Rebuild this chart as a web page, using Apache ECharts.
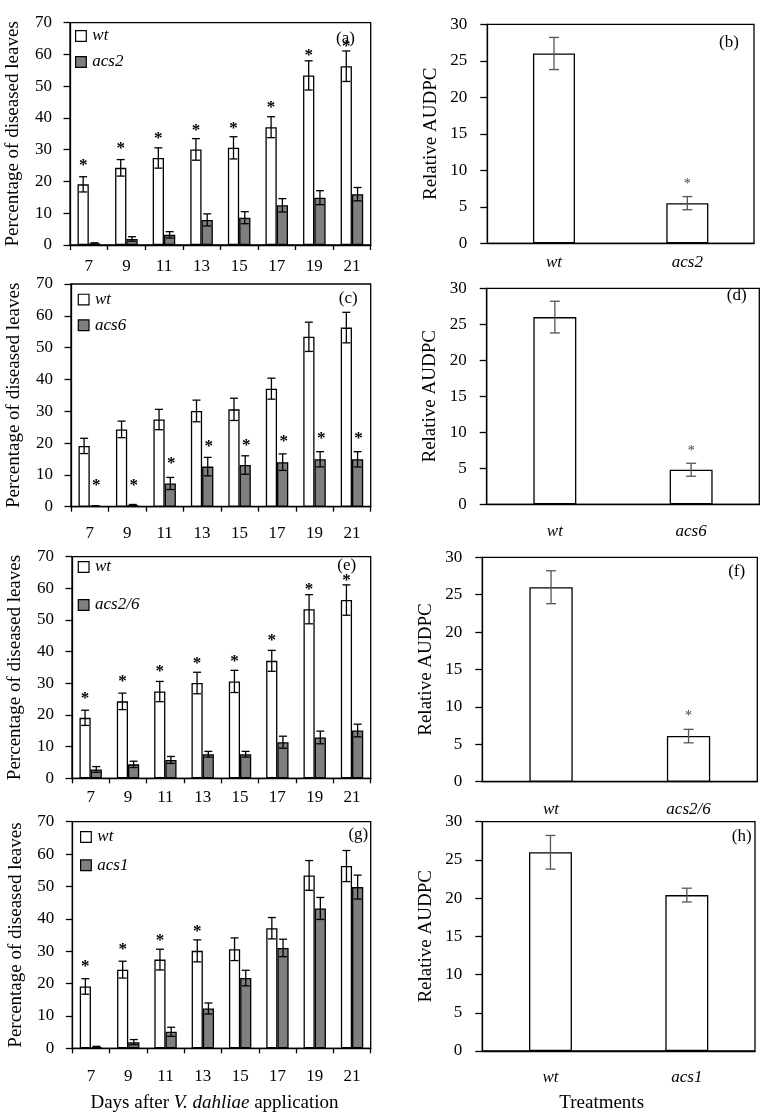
<!DOCTYPE html>
<html>
<head>
<meta charset="utf-8">
<script src="https://cdn.jsdelivr.net/npm/echarts@6/dist/echarts.min.js"></script>
<style>
html,body{margin:0;padding:0;background:#fff;}
#c{width:766px;height:1116px;}
</style>
</head>
<body>
<div id="c"></div>
<script>
// ---------- data ----------
var days = ['7', '9', '11', '13', '15', '17', '19', '21'];
var wtMean = [19.1, 24.3, 27.4, 30.1, 30.6, 37.1, 53.4, 56.3];
var wtErr = [2.4, 2.6, 3.2, 3.4, 3.5, 3.3, 4.6, 4.8];
var acs2Mean = [0.5, 1.9, 3.2, 7.9, 8.6, 12.5, 14.9, 16.0];
var acs2Err = [0.2, 0.7, 1.0, 1.9, 1.9, 2.1, 2.2, 2.1];
var acs6Mean = [0.2, 0.5, 7.3, 12.6, 13.1, 14.0, 14.9, 14.9];
var acs6Err = [0.1, 0.2, 1.9, 2.9, 2.9, 2.6, 2.4, 2.4];
var acs26Mean = [2.8, 4.4, 5.8, 7.6, 7.6, 11.4, 12.9, 15.1];
var acs26Err = [0.9, 1.0, 1.1, 0.9, 0.9, 1.9, 2.0, 2.0];
var acs1Mean = [0.4, 1.9, 5.1, 12.3, 21.7, 31.0, 43.2, 49.8];
var acs1Err = [0.2, 0.8, 1.4, 1.7, 2.4, 2.7, 3.4, 3.7];
// asterisk heights (-1 = no asterisk)
var starA = [26.0, 31.3, 34.3, 37.1, 37.7, 44.3, 60.7, 63.5];
var starC = [7.7, 7.7, 14.6, 19.8, 20.3, 21.3, 22.2, 22.2];
var starE = [26.0, 31.5, 34.5, 37.2, 37.8, 44.3, 60.6, 63.3];
var starG = [26.3, 31.4, 34.3, 37.1, -1, -1, -1, -1];

var audpcCatsB = ['wt', 'acs2'];
var audpcCatsD = ['wt', 'acs6'];
var audpcCatsF = ['wt', 'acs2/6'];
var audpcCatsH = ['wt', 'acs1'];
var audpcMeanB = [26.0, 5.5];
var audpcMeanD = [26.0, 4.8];
var audpcMeanF = [26.0, 6.1];
var audpcMeanH = [26.0, 20.4];
var audpcErrB = [2.2, 0.9];
var audpcErrD = [2.2, 0.9];
var audpcErrF = [2.2, 0.9];
var audpcErrH = [2.2, 0.9];
var audpcStarB = [-1, 8.45];
var audpcStarD = [-1, 7.7];
var audpcStarF = [-1, 9.05];
var audpcStarH = [-1, -1];

var percentTicks = {min: 0, max: 70, interval: 10};
var audpcTicks = {min: 0, max: 30, interval: 5};

// ---------- style ----------
var FONT = "'Liberation Serif', 'Times New Roman', serif";
var GREY = '#7f7f7f';
var LW = 1.3;

var leftGrids = [
  {left: 70, top: 22.7, width: 300.7, height: 222.3, margin: 13.5},
  {left: 71, top: 284, width: 299.7, height: 222.7, margin: 18},
  {left: 72, top: 556.7, width: 298.7, height: 221.6, margin: 11},
  {left: 72.3, top: 821.7, width: 298.4, height: 226.6, margin: 20}
];
var rightGrids = [
  {left: 487.3, top: 24.3, width: 266.7, height: 219, margin: 11},
  {left: 486.7, top: 288.3, width: 272.6, height: 216, margin: 19},
  {left: 482.3, top: 557.3, width: 275, height: 224.4, margin: 19},
  {left: 482.3, top: 821.7, width: 272.7, height: 229.3, margin: 18.5}
];

var LEFT_GAP = 0.4;
var RIGHT_GAP = 0.685;

var option = {
  animation: false,
  backgroundColor: '#fff',
  textStyle: {fontFamily: FONT, color: '#000'},
  grid: [],
  xAxis: [],
  yAxis: [],
  legend: [],
  series: [],
  graphic: []
};

function errSeries(gi, means, errs, stars, pos, n, gap, o) {
  var data = means.map(function (m, i) { return [i, m, errs[i], stars ? stars[i] : -1]; });
  return {
    type: 'custom', xAxisIndex: gi, yAxisIndex: gi, z: 5, silent: true,
    data: data,
    encode: {x: 0, y: 1},
    renderItem: function (params, api) {
      var i = api.value(0), m = api.value(1), e = api.value(2), s = api.value(3);
      var band = api.size([1, 0])[0];
      var bw = band * (1 - gap) / n;
      var cx = api.coord([i, m])[0] + (pos - (n - 1) / 2) * bw;
      var yT = api.coord([i, m + e])[1];
      var yB = api.coord([i, Math.max(0, m - e)])[1];
      var h = o.cap / 2;
      var st = {stroke: o.color, lineWidth: o.lw};
      var ch = [
        {type: 'line', shape: {x1: cx, y1: yT, x2: cx, y2: yB}, style: st},
        {type: 'line', shape: {x1: cx - h, y1: yT, x2: cx + h, y2: yT}, style: st},
        {type: 'line', shape: {x1: cx - h, y1: yB, x2: cx + h, y2: yB}, style: st}
      ];
      if (s >= 0) {
        ch.push({type: 'text', x: cx + (o.starDx || 0), y: api.coord([i, s])[1] + o.starDy,
          style: {text: '*', fill: o.starColor, font: o.starFont, align: 'center', verticalAlign: 'middle'}});
      }
      return {type: 'group', children: ch};
    }
  };
}

// left panels
var mutants = [
  {name: 'acs2', mean: acs2Mean, err: acs2Err, wtStar: starA, mStar: null, leg: {left: 75, top: 27.5, gap: 9}},
  {name: 'acs6', mean: acs6Mean, err: acs6Err, wtStar: null, mStar: starC, leg: {left: 77.7, top: 291.1, gap: 8.7}},
  {name: 'acs2/6', mean: acs26Mean, err: acs26Err, wtStar: starE, mStar: null, leg: {left: 77.7, top: 558.5, gap: 21}},
  {name: 'acs1', mean: acs1Mean, err: acs1Err, wtStar: starG, mStar: null, leg: {left: 80, top: 828.5, gap: 11.3}}
];

var starOptsL = {color: '#000', lw: LW, cap: 8, starColor: '#000', starFont: 'bold 17px ' + FONT, starDy: 3};

mutants.forEach(function (mu, k) {
  var g = leftGrids[k];
  option.grid.push({left: g.left, top: g.top, width: g.width, height: g.height, show: true,
    borderColor: '#000', borderWidth: LW, backgroundColor: 'transparent'});
  var xa = {type: 'category', gridIndex: k, data: days, boundaryGap: true,
    axisLine: {lineStyle: {color: '#000', width: LW}},
    axisTick: {show: true, length: 5, lineStyle: {color: '#000', width: LW}},
    axisLabel: {color: '#000', fontSize: 17, fontFamily: FONT, margin: g.margin}};
  if (k === 3) {
    xa.name = '{n|Days after }{i|V. dahliae}{n| application}';
    xa.nameLocation = 'middle';
    xa.nameGap = 45;
    xa.nameTextStyle = {padding: [0, 14, 0, 0], rich: {
      n: {fontSize: 19, fontFamily: FONT, color: '#000'},
      i: {fontSize: 19, fontFamily: FONT, fontStyle: 'italic', color: '#000'}}};
  }
  option.xAxis.push(xa);
  option.yAxis.push({type: 'value', gridIndex: k, min: percentTicks.min, max: percentTicks.max, interval: percentTicks.interval,
    name: 'Percentage of diseased leaves', nameLocation: 'middle', nameGap: 47,
    nameTextStyle: {fontSize: 19, fontFamily: FONT, color: '#000'},
    axisLine: {show: true, lineStyle: {color: '#000', width: LW}},
    axisTick: {show: true, length: 6.5, lineStyle: {color: '#000', width: LW}},
    axisLabel: {color: '#000', fontSize: 17, fontFamily: FONT, margin: 18},
    splitLine: {show: false}});
  option.series.push({type: 'bar', name: 'wt', xAxisIndex: k, yAxisIndex: k, data: wtMean,
    barGap: '0%', barCategoryGap: (LEFT_GAP * 100) + '%',
    itemStyle: {color: '#fff', borderColor: '#000', borderWidth: LW}});
  option.series.push({type: 'bar', name: mu.name, xAxisIndex: k, yAxisIndex: k, data: mu.mean,
    barGap: '0%', barCategoryGap: (LEFT_GAP * 100) + '%',
    itemStyle: {color: GREY, borderColor: '#000', borderWidth: LW}});
  option.series.push(errSeries(k, wtMean, wtErr, mu.wtStar, 0, 2, LEFT_GAP, starOptsL));
  option.series.push(errSeries(k, mu.mean, mu.err, mu.mStar, 1, 2, LEFT_GAP, Object.assign({}, starOptsL, {starDx: 1})));
  option.legend.push({orient: 'vertical', left: mu.leg.left, top: mu.leg.top, padding: 0,
    itemGap: mu.leg.gap, itemWidth: 10.7, itemHeight: 10.7, icon: 'rect',
    data: ['wt', mu.name], selectedMode: false,
    itemStyle: {borderColor: '#000', borderWidth: 1.2},
    textStyle: {fontSize: 17, fontFamily: FONT, fontStyle: 'italic', color: '#000', padding: [0, 0, 0, 1]}});
});

// right panels
var rightSets = [
  {cats: audpcCatsB, mean: audpcMeanB, err: audpcErrB, star: audpcStarB},
  {cats: audpcCatsD, mean: audpcMeanD, err: audpcErrD, star: audpcStarD},
  {cats: audpcCatsF, mean: audpcMeanF, err: audpcErrF, star: audpcStarF},
  {cats: audpcCatsH, mean: audpcMeanH, err: audpcErrH, star: audpcStarH}
];
var starOptsR = {color: '#555', lw: LW, cap: 10, starColor: '#444', starFont: '14px ' + FONT, starDy: 2.5};

rightSets.forEach(function (rs, j) {
  var k = 4 + j;
  var g = rightGrids[j];
  option.grid.push({left: g.left, top: g.top, width: g.width, height: g.height, show: true,
    borderColor: '#000', borderWidth: LW, backgroundColor: 'transparent'});
  var xa = {type: 'category', gridIndex: k, data: rs.cats, boundaryGap: true,
    axisLine: {lineStyle: {color: '#000', width: LW}},
    axisTick: {show: false},
    axisLabel: {color: '#000', fontSize: 17, fontFamily: FONT, fontStyle: 'italic', margin: g.margin}};
  if (j === 3) {
    xa.name = 'Treatments';
    xa.nameLocation = 'middle';
    xa.nameGap = 42.5;
    xa.nameTextStyle = {fontSize: 19, fontFamily: FONT, color: '#000', padding: [0, 34, 0, 0]};
  }
  option.xAxis.push(xa);
  option.yAxis.push({type: 'value', gridIndex: k, min: audpcTicks.min, max: audpcTicks.max, interval: audpcTicks.interval,
    name: 'Relative AUDPC', nameLocation: 'middle', nameGap: 47,
    nameTextStyle: {fontSize: 19, fontFamily: FONT, color: '#000'},
    axisLine: {show: true, lineStyle: {color: '#000', width: LW}},
    axisTick: {show: true, length: 7, lineStyle: {color: '#000', width: LW}},
    axisLabel: {color: '#000', fontSize: 17, fontFamily: FONT, margin: 20},
    splitLine: {show: false}});
  option.series.push({type: 'bar', name: 'AUDPC', xAxisIndex: k, yAxisIndex: k, data: rs.mean,
    barCategoryGap: (RIGHT_GAP * 100) + '%',
    itemStyle: {color: '#fff', borderColor: '#000', borderWidth: LW}});
  option.series.push(errSeries(k, rs.mean, rs.err, rs.star, 0, 1, RIGHT_GAP, starOptsR));
});

// panel letters
var letters = [
  ['(a)', 345.5, 39], ['(b)', 729, 43], ['(c)', 348.3, 298.3], ['(d)', 736.7, 296],
  ['(e)', 346.7, 566], ['(f)', 736.7, 572], ['(g)', 358.3, 835], ['(h)', 741.7, 836.7]
];
letters.forEach(function (L) {
  option.graphic.push({type: 'text', x: L[1], y: L[2], z: 10,
    style: {text: L[0], fill: '#000', font: '17px ' + FONT, align: 'center', verticalAlign: 'middle'}});
});

var chart = echarts.init(document.getElementById('c'), null, {renderer: 'canvas'});
chart.setOption(option);
</script>
</body>
</html>
